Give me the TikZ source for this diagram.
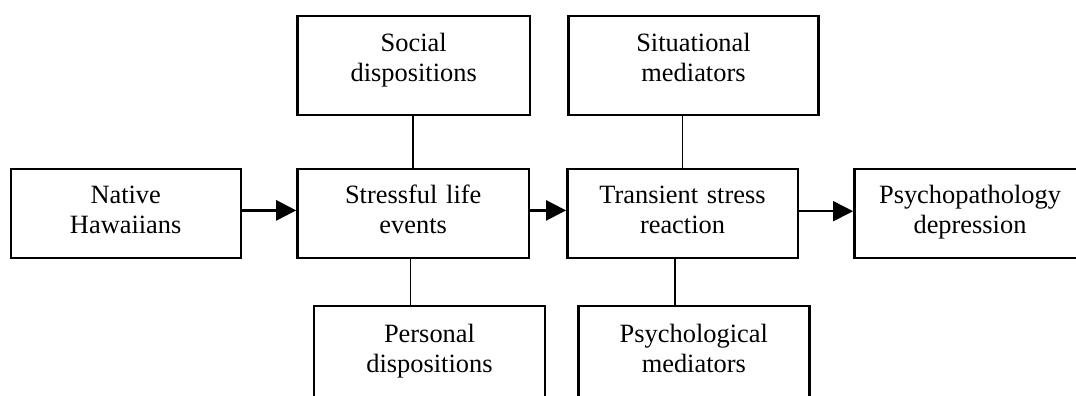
\documentclass[tikz,border=0pt]{standalone}
\usepackage{fontspec}
\setmainfont{Liberation Serif}
\usetikzlibrary{arrows.meta}

\begin{document}
\begin{tikzpicture}[x=0.5pt,y=-0.5pt,
  box/.style={draw,line width=1.2pt,inner sep=0pt,align=center,anchor=north,
    font=\fontsize{13.2}{15}\selectfont,text height=17.5pt},
  midbox/.style={box,text depth=27pt},
  topbox/.style={box,text depth=31.75pt},
  lowbox/.style={box,text height=18pt,text depth=60pt},
  arr/.style={-{Triangle[length=10pt,width=10pt]}}]
\useasboundingbox (0,0) rectangle (1076,396);
\clip (0,0) rectangle (1076,396);
\node[midbox,text width=115pt] (native) at (125.7,167.5) {Native\\Hawaiians};
\node[midbox,text width=115.8pt] (stress) at (413.2,167.5) {Stressful life\\events};
\node[midbox,text width=115.2pt] (trans) at (682.5,167.5) {Transient stress\\reaction};
\node[midbox,text width=115.7pt] (psych) at (970,167.5) {Psychopathology\\depression};
\node[topbox,text width=116.3pt] (social) at (413.7,15) {Social\\dispositions};
\node[topbox,text width=125pt] (situ) at (693.5,15) {Situational\\mediators};
\node[lowbox,text width=115.5pt] (personal) at (429.5,305) {Personal\\dispositions};
\node[lowbox,text width=115.5pt] (psymed) at (693.8,305) {Psychological\\mediators};
\draw[line width=1pt] (stress.north |- social.south) -- (stress.north);
\draw[line width=0.7pt] ([xshift=-1.5pt]stress.south) -- ([xshift=-1.5pt]stress.south |- personal.north);
\draw[line width=0.6pt] (trans.north |- situ.south) -- (trans.north);
\draw[line width=1pt] ([xshift=-3.75pt]trans.south) -- ([xshift=-3.75pt]trans.south |- psymed.north);
\draw[arr,line width=1.3pt] ([yshift=1.4pt]native.east) -- ([yshift=1.4pt]stress.west);
\draw[arr,line width=1.2pt] ([yshift=1.4pt]stress.east) -- ([yshift=1.4pt]trans.west);
\draw[arr,line width=0.8pt] ([yshift=1pt]trans.east) -- ([yshift=1pt]psych.west);
\end{tikzpicture}
\end{document}
